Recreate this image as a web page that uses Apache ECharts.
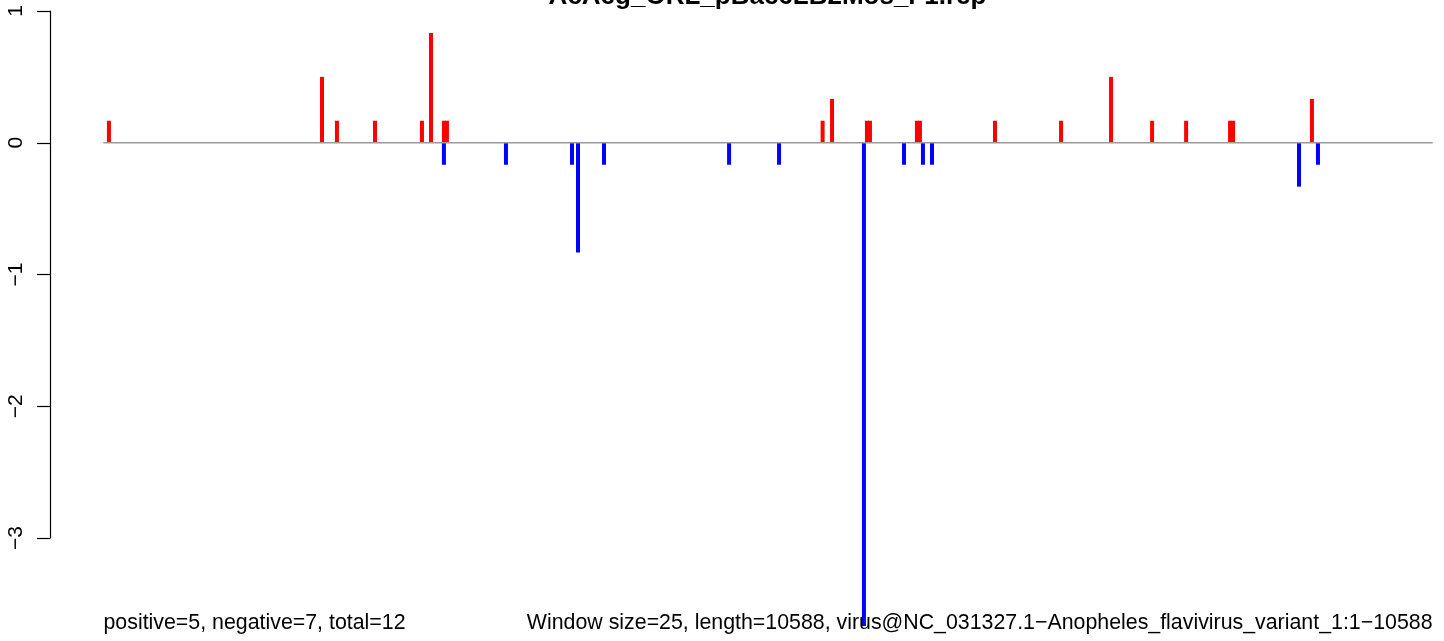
<!DOCTYPE html>
<html>
<head>
<meta charset="utf-8">
<script src="https://cdn.jsdelivr.net/npm/echarts@6/dist/echarts.min.js"></script>
<style>
html,body{margin:0;padding:0;background:#fff;}
#chart{width:1444px;height:641px;}
</style>
</head>
<body>
<div id="chart"></div>
<script>
// ---- data ----
var titleText = 'AcAeg_ORL_pBac6LB2Mos_F1.rep';
var seqLength = 10588;
var posPositions = [45, 1742, 1861, 2164, 2538, 2610, 2713, 2737, 5729, 5804, 6082, 6106, 6480, 6504, 7102, 7628, 8026, 8353, 8624, 8974, 8998, 9626];
var posValues    = [0.167, 0.5, 0.167, 0.167, 0.167, 0.833, 0.167, 0.167, 0.167, 0.333, 0.167, 0.167, 0.167, 0.167, 0.167, 0.167, 0.5, 0.167, 0.167, 0.167, 0.167, 0.333];
var negPositions = [2713, 3207, 3733, 3781, 3988, 4984, 5382, 6058, 6377, 6528, 6600, 9523, 9674];
var negValues    = [-0.167, -0.167, -0.167, -0.833, -0.167, -0.167, -0.167, -3.667, -0.167, -0.167, -0.167, -0.333, -0.167];
var yTicks = [-3, -2, -1, 0, 1];
var footLeft = 'positive=5, negative=7, total=12';
var footRight = 'Window size=25, length=10588, virus@NC_031327.1\u2212Anopheles_flavivirus_variant_1:1\u221210588';

var FONT = '"Liberation Sans", Arial, sans-serif';
var xPad = seqLength * 0.04;

function toPairs(xs, ys) { return xs.map(function (x, i) { return [x, ys[i]]; }); }

function barRender(color) {
  return function (params, api) {
    var x = api.value(0), v = api.value(1);
    var p0 = api.coord([x, 0]);
    var p1 = api.coord([x, v]);
    var w = 4;
    return {
      type: 'rect',
      shape: { x: p0[0] - w / 2, y: Math.min(p0[1], p1[1]), width: w, height: Math.abs(p1[1] - p0[1]) },
      style: { fill: color }
    };
  };
}

var chart = echarts.init(document.getElementById('chart'), null, { renderer: 'canvas' });
chart.setOption({
  animation: false,
  backgroundColor: '#ffffff',
  grid: { left: 50.1, top: 11, width: 1435.8, height: 527, containLabel: false, outerBoundsMode: 'none' },
  xAxis: {
    type: 'value', min: -xPad, max: seqLength + xPad, show: false
  },
  yAxis: {
    type: 'value', min: yTicks[0], max: yTicks[yTicks.length - 1], interval: 1,
    axisLine: { show: true, onZero: false, lineStyle: { color: '#000', width: 1.2 } },
    axisTick: { show: true, length: 13, lineStyle: { color: '#000', width: 1.2 } },
    splitLine: { show: false },
    axisLabel: {
      rotate: 90, margin: 23, color: '#000', fontSize: 21, fontFamily: FONT,
      formatter: function (v) { return String(v).replace('-', '\u2212'); }
    }
  },
  series: [
    {
      type: 'custom', renderItem: barRender('#ff0000'), clip: false,
      data: toPairs(posPositions, posValues), z: 2
    },
    {
      type: 'custom', renderItem: barRender('#0000ff'), clip: false,
      data: toPairs(negPositions, negValues), z: 2
    },
    {
      type: 'line', data: [[0, 0], [seqLength, 0]], symbol: 'none',
      lineStyle: { color: '#9a9a9a', width: 1.6 }, z: 3, silent: true
    }
  ],
  graphic: [
    { type: 'text', x: 767.5, y: -3.5, z: 10,
      style: { text: titleText, textAlign: 'center', textVerticalAlign: 'middle', font: 'bold 26px ' + FONT, fill: '#000' } },
    { type: 'text', x: 103.5, y: 623, z: 10,
      style: { text: footLeft, textAlign: 'left', textVerticalAlign: 'middle', font: '21.35px ' + FONT, fill: '#000' } },
    { type: 'text', x: 1432.5, y: 623, z: 10,
      style: { text: footRight, textAlign: 'right', textVerticalAlign: 'middle', font: '21.35px ' + FONT, fill: '#000' } }
  ]
});
</script>
</body>
</html>
